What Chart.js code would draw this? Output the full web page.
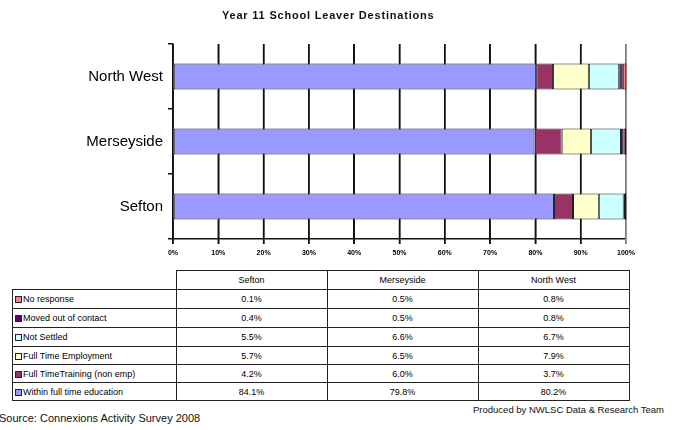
<!DOCTYPE html>
<html>
<head>
<meta charset="utf-8"/>
<script src="https://cdn.jsdelivr.net/npm/chart.js@4"></script>
</head>
<body style="margin:0">
<canvas id="chart" width="698" height="262"></canvas>
<div id="titleBox" style="position:absolute;left:222px;top:9px;font:bold 11px 'Liberation Sans',Arial,sans-serif;letter-spacing:0.8px;color:#111"></div>
<table id="tbl" style="position:absolute;left:12px;top:270px;border-collapse:collapse;font:9px 'Liberation Sans',Arial,sans-serif;color:#000"></table>
<div id="sourceBox" style="position:absolute;left:-1px;top:412px;font:11px 'Liberation Sans',Arial,sans-serif;color:#111"></div>
<div id="producedBox" style="position:absolute;left:473px;top:404px;font:9.5px 'Liberation Sans',Arial,sans-serif;color:#111"></div>
<script>
    // data (percent), regions in table order
    var regions = ['Sefton', 'Merseyside', 'North West'];
    var withinEducation = [84.1, 79.8, 80.2];
    var fullTimeTraining = [4.2, 6.0, 3.7];
    var fullTimeEmployment = [5.7, 6.5, 7.9];
    var notSettled = [5.5, 6.6, 6.7];
    var movedOut = [0.4, 0.5, 0.8];
    var noResponse = [0.1, 0.5, 0.8];
    var xTickStep = 10;

    var titleText = 'Year 11 School Leaver Destinations';
    var sourceText = 'Source: Connexions  Activity Survey 2008';
    var producedText = 'Produced by NWLSC Data & Research Team';

    // stack order left to right
    var series = [
        { label: 'Within full time education', data: withinEducation, color: '#9999FF' },
        { label: 'Full TimeTraining (non emp)', data: fullTimeTraining, color: '#993366' },
        { label: 'Full Time Employment', data: fullTimeEmployment, color: '#FFFFCC' },
        { label: 'Not Settled', data: notSettled, color: '#CCFFFF' },
        { label: 'Moved out of contact', data: movedOut, color: '#660066' },
        { label: 'No response', data: noResponse, color: '#FF8080' }
    ];

    document.getElementById('titleBox').innerText = titleText;
    document.getElementById('sourceBox').innerText = sourceText;
    document.getElementById('producedBox').innerText = producedText;

    // vertical gridlines drawn at the x scale's ticks, in the gaps left by the bars
    var gapGrid = {
        id: 'gapGrid',
        afterDraw: function (chart) {
            var xs = chart.scales.x, area = chart.chartArea, g = chart.ctx;
            var bars = chart.getDatasetMeta(0).data.map(function (el) {
                var p = el.getProps(['y', 'height'], true);
                return [p.y - p.height / 2, p.y + p.height / 2];
            }).sort(function (a, b) { return a[0] - b[0]; });
            var segs = [], y0 = area.top;
            bars.forEach(function (b) { segs.push([y0, b[0]]); y0 = b[1]; });
            segs.push([y0, area.bottom + 5]);
            g.save();
            g.lineWidth = 1.5;
            xs.ticks.forEach(function (t) {
                var px = xs.getPixelForValue(t.value);
                g.strokeStyle = t.value === 100 ? '#a0a0a0' : '#111';
                segs.forEach(function (s) {
                    g.beginPath();
                    g.moveTo(px, s[0]);
                    g.lineTo(px, s[1]);
                    g.stroke();
                });
            });
            g.restore();
        }
    };

    var c = new Chart(document.getElementById('chart'), {
        type: 'bar',
        data: {
            labels: regions,
            datasets: series.map(function (s) {
                return {
                    label: s.label,
                    data: s.data,
                    backgroundColor: s.color,
                    borderColor: '#222',
                    borderWidth: 1,
                    borderSkipped: false,
                    barPercentage: 0.4,
                    categoryPercentage: 1
                };
            })
        },
        options: {
            indexAxis: 'y', responsive: false, animation: false, devicePixelRatio: 1,
            layout: { padding: { left: 0, right: 72, top: 44, bottom: 0 } },
            plugins: { legend: { display: false } },
            scales: {
                x: { stacked: true, min: 0, max: 100,
                     afterFit: function (s) { s.height = 23; },
                     ticks: { stepSize: xTickStep, padding: 5, color: '#000', font: { size: 7, weight: 'bold' }, callback: function (v) { return v + '%'; } },
                     grid: { color: '#111', lineWidth: 1.5, tickLength: 5 },
                     border: { display: true, color: '#111', width: 1.5 } },
                y: { stacked: true, reverse: true,
                     afterFit: function (s) { s.width = 173; },
                     ticks: { padding: 5, color: '#000', font: { size: 15 } },
                     grid: { offset: true, drawOnChartArea: false, color: '#111', lineWidth: 1.5, tickLength: 5 },
                     border: { display: true, color: '#111', width: 1.5 } }
            }
        },
        plugins: [gapGrid]
    });

    // data table underneath, rows in reverse stack order
    var cell = 'border:1px solid #222;padding:0;text-align:center;';
    var rowHeights = [19, 19, 19, 18, 18, 18];
    var html = '<tr style="height:19px"><td style="width:161px;border-right:1px solid #222;border-bottom:1px solid #222"></td>';
    regions.forEach(function (r) { html += '<td style="' + cell + 'width:150px">' + r + '</td>'; });
    html += '</tr>';
    series.slice().reverse().forEach(function (s, i) {
        html += '<tr style="height:' + rowHeights[i] + 'px"><td style="' + cell + 'text-align:left;padding-left:2px;white-space:nowrap">' +
            '<span style="display:inline-block;width:5px;height:5px;border:1px solid #222;margin-right:1px;vertical-align:-1px;background:' + s.color + '"></span>' + s.label + '</td>';
        s.data.forEach(function (v) { html += '<td style="' + cell + '">' + v.toFixed(1) + '%</td>'; });
        html += '</tr>';
    });
    document.getElementById('tbl').innerHTML = html;
</script>
</body>
</html>
